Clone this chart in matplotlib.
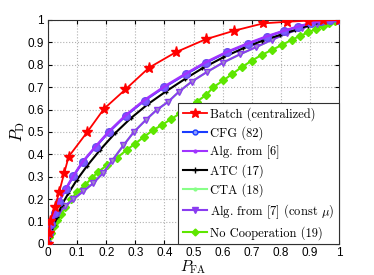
import matplotlib
matplotlib.use("Agg")
import matplotlib.pyplot as plt
from matplotlib.lines import Line2D

# ROC points (P_FA, P_D)
batch_pfa = [0, 0.003, 0.007, 0.024, 0.038, 0.056, 0.071, 0.135, 0.192, 0.266, 0.347, 0.439,
             0.542, 0.639, 0.74, 0.82, 0.892, 0.946, 1.0]
batch_pd = [0, 0.05, 0.104, 0.165, 0.23, 0.318, 0.39, 0.50, 0.603, 0.69, 0.787, 0.856,
            0.914, 0.952, 0.985, 0.992, 0.997, 0.998, 1.0]

cfg_pfa = [0, 0.005, 0.012, 0.024, 0.038, 0.061, 0.087, 0.119, 0.164, 0.21, 0.268, 0.332,
           0.40, 0.473, 0.543, 0.616, 0.688, 0.754, 0.811, 0.86, 0.904, 0.938, 0.97, 1.0]
cfg_pd = [0, 0.05, 0.09, 0.137, 0.189, 0.244, 0.302, 0.365, 0.434, 0.50, 0.573, 0.64,
          0.70, 0.757, 0.809, 0.856, 0.894, 0.926, 0.951, 0.97, 0.985, 0.994, 0.998, 1.0]

alg6_pfa = [0, 0.005, 0.012, 0.024, 0.038, 0.061, 0.087, 0.119, 0.164, 0.21, 0.268, 0.332,
            0.40, 0.473, 0.543, 0.616, 0.688, 0.754, 0.811, 0.86, 0.904, 0.938, 0.97, 1.0]
alg6_pd = [0, 0.05, 0.09, 0.138, 0.19, 0.246, 0.304, 0.367, 0.436, 0.503, 0.576, 0.643,
           0.703, 0.76, 0.812, 0.858, 0.896, 0.928, 0.952, 0.971, 0.986, 0.994, 0.998, 1.0]

atc_pfa = [0, 0.01, 0.02, 0.032, 0.047, 0.07, 0.099, 0.135, 0.179, 0.23, 0.284, 0.343,
           0.404, 0.471, 0.53, 0.602, 0.671, 0.736, 0.797, 0.849, 0.894, 0.935, 0.969, 1.0]
atc_pd = [0, 0.045, 0.085, 0.122, 0.174, 0.226, 0.286, 0.35, 0.42, 0.494, 0.561, 0.624,
          0.68, 0.737, 0.784, 0.833, 0.874, 0.907, 0.933, 0.955, 0.975, 0.988, 0.997, 1.0]

alg7_pfa = [0, 0.008, 0.018, 0.035, 0.06, 0.087, 0.121, 0.156, 0.19, 0.219, 0.259, 0.295,
            0.337, 0.373, 0.413, 0.45, 0.494, 0.545, 0.602, 0.66, 0.715, 0.769, 0.82, 0.872,
            0.923, 0.969, 1.0]
alg7_pd = [0, 0.06, 0.10, 0.137, 0.17, 0.2, 0.235, 0.272, 0.318, 0.37, 0.44, 0.5,
           0.555, 0.598, 0.635, 0.68, 0.725, 0.767, 0.81, 0.847, 0.879, 0.911, 0.94, 0.963,
           0.982, 0.997, 1.0]

cta_pfa = alg7_pfa
cta_pd = alg7_pd

nocoop_pfa = [0, 0.005, 0.01, 0.02, 0.03, 0.045, 0.06, 0.08, 0.1, 0.127, 0.15, 0.173, 0.204,
              0.236, 0.27, 0.299, 0.33, 0.362, 0.391, 0.422, 0.454, 0.482, 0.511, 0.543, 0.568,
              0.602, 0.634, 0.666, 0.7, 0.734, 0.769, 0.803, 0.837, 0.866, 0.895, 0.92, 0.945,
              0.965, 0.985, 1.0]
nocoop_pd = [0, 0.03, 0.05, 0.08, 0.105, 0.135, 0.165, 0.2, 0.233, 0.263, 0.293, 0.323, 0.353,
             0.383, 0.42, 0.447, 0.479, 0.509, 0.531, 0.557, 0.583, 0.608, 0.635, 0.665, 0.70,
             0.73, 0.76, 0.79, 0.818, 0.844, 0.866, 0.888, 0.911, 0.929, 0.945, 0.96, 0.975,
             0.987, 0.995, 1.0]

labels = ["Batch (centralized)", "CFG (82)", "Alg. from [6]", "ATC (17)", "CTA (18)",
          r"Alg. from [7] (const $\mu$)", "No Cooperation (19)"]
ticks = [0, 0.1, 0.2, 0.3, 0.4, 0.5, 0.6, 0.7, 0.8, 0.9, 1]
tick_labels = ["0", "0.1", "0.2", "0.3", "0.4", "0.5", "0.6", "0.7", "0.8", "0.9", "1"]

plt.rcParams['mathtext.fontset'] = 'cm'
plt.rcParams['font.family'] = ['Liberation Sans', 'DejaVu Sans']

fig = plt.figure(figsize=(3.74, 2.75), dpi=100)
ax = fig.add_axes([48 / 374, 1 - 244 / 275, 291 / 374, 224 / 275])

red = '#ff0000'
blue = '#1a3cff'
purple = '#a033ff'
violet = '#8a3cf0'
lgreen = '#88ff88'
green = '#5ee600'

ax.plot(nocoop_pfa, nocoop_pd, color=green, lw=1.5, marker='D', ms=4,
        mfc=green, mec=green, zorder=2)
ax.plot(cta_pfa, cta_pd, color=lgreen, lw=1.5, marker='.', ms=4, zorder=3)
ax.plot(alg7_pfa, alg7_pd, color=violet, lw=1.5, marker='v', ms=5,
        mfc='#a08cc8', mec=violet, zorder=4)
ax.plot(atc_pfa, atc_pd, color='black', lw=1.5, marker='+', ms=3, zorder=5)
ax.plot(cfg_pfa, cfg_pd, color=blue, lw=1.5, marker='o', ms=5.5,
        mfc='#7a5cff', mec='#6a4cf0', zorder=5)
ax.plot(alg6_pfa, alg6_pd, color=purple, lw=1.8, zorder=6)
ax.plot(batch_pfa, batch_pd, color=red, lw=1.3, marker='*', ms=8, mec=red, mfc=red, zorder=7)

ax.set_xlim(0, 1)
ax.set_ylim(0, 1)
ax.set_xticks(ticks)
ax.set_xticklabels(tick_labels)
ax.set_yticks(ticks)
ax.set_yticklabels(tick_labels)
ax.tick_params(direction='in', length=3, labelsize=8.5, pad=3, top=True, right=True)
ax.tick_params(axis='x', pad=2)
ax.grid(True, linestyle=':', color='#b0b0b0', lw=0.8)
for s in ax.spines.values():
    s.set_color('#303030')
    s.set_linewidth(0.8)

ax.set_xlabel(r'$P_{\rm FA}$', fontsize=11)
ax.xaxis.set_label_coords(0.5, -0.066)
ax.set_ylabel(r'$P_{\rm D}$', fontsize=12, labelpad=0)

handles = [
    Line2D([], [], color=red, lw=1.3, marker='*', ms=7),
    Line2D([], [], color=blue, lw=1.5, marker='o', ms=3.5, mfc='#8fa0ff'),
    Line2D([], [], color=purple, lw=1.5, marker='.', ms=4),
    Line2D([], [], color='black', lw=1.5, marker='+', ms=4),
    Line2D([], [], color=lgreen, lw=1.5, marker='.', ms=4),
    Line2D([], [], color=violet, lw=1.5, marker='v', ms=4.5),
    Line2D([], [], color=green, lw=1.5, marker='D', ms=3.5),
]
leg = ax.legend(handles, labels, loc='lower right', bbox_to_anchor=(1.0, 0.0),
                borderaxespad=0, fancybox=False, framealpha=1, edgecolor='#303030',
                prop={'family': 'cmr10', 'size': 9}, handlelength=1.9,
                handletextpad=0.3, labelspacing=0.42, borderpad=0.35)
leg.get_frame().set_linewidth(0.8)
leg.set_zorder(10)

fig.savefig('out.png', dpi=100)
